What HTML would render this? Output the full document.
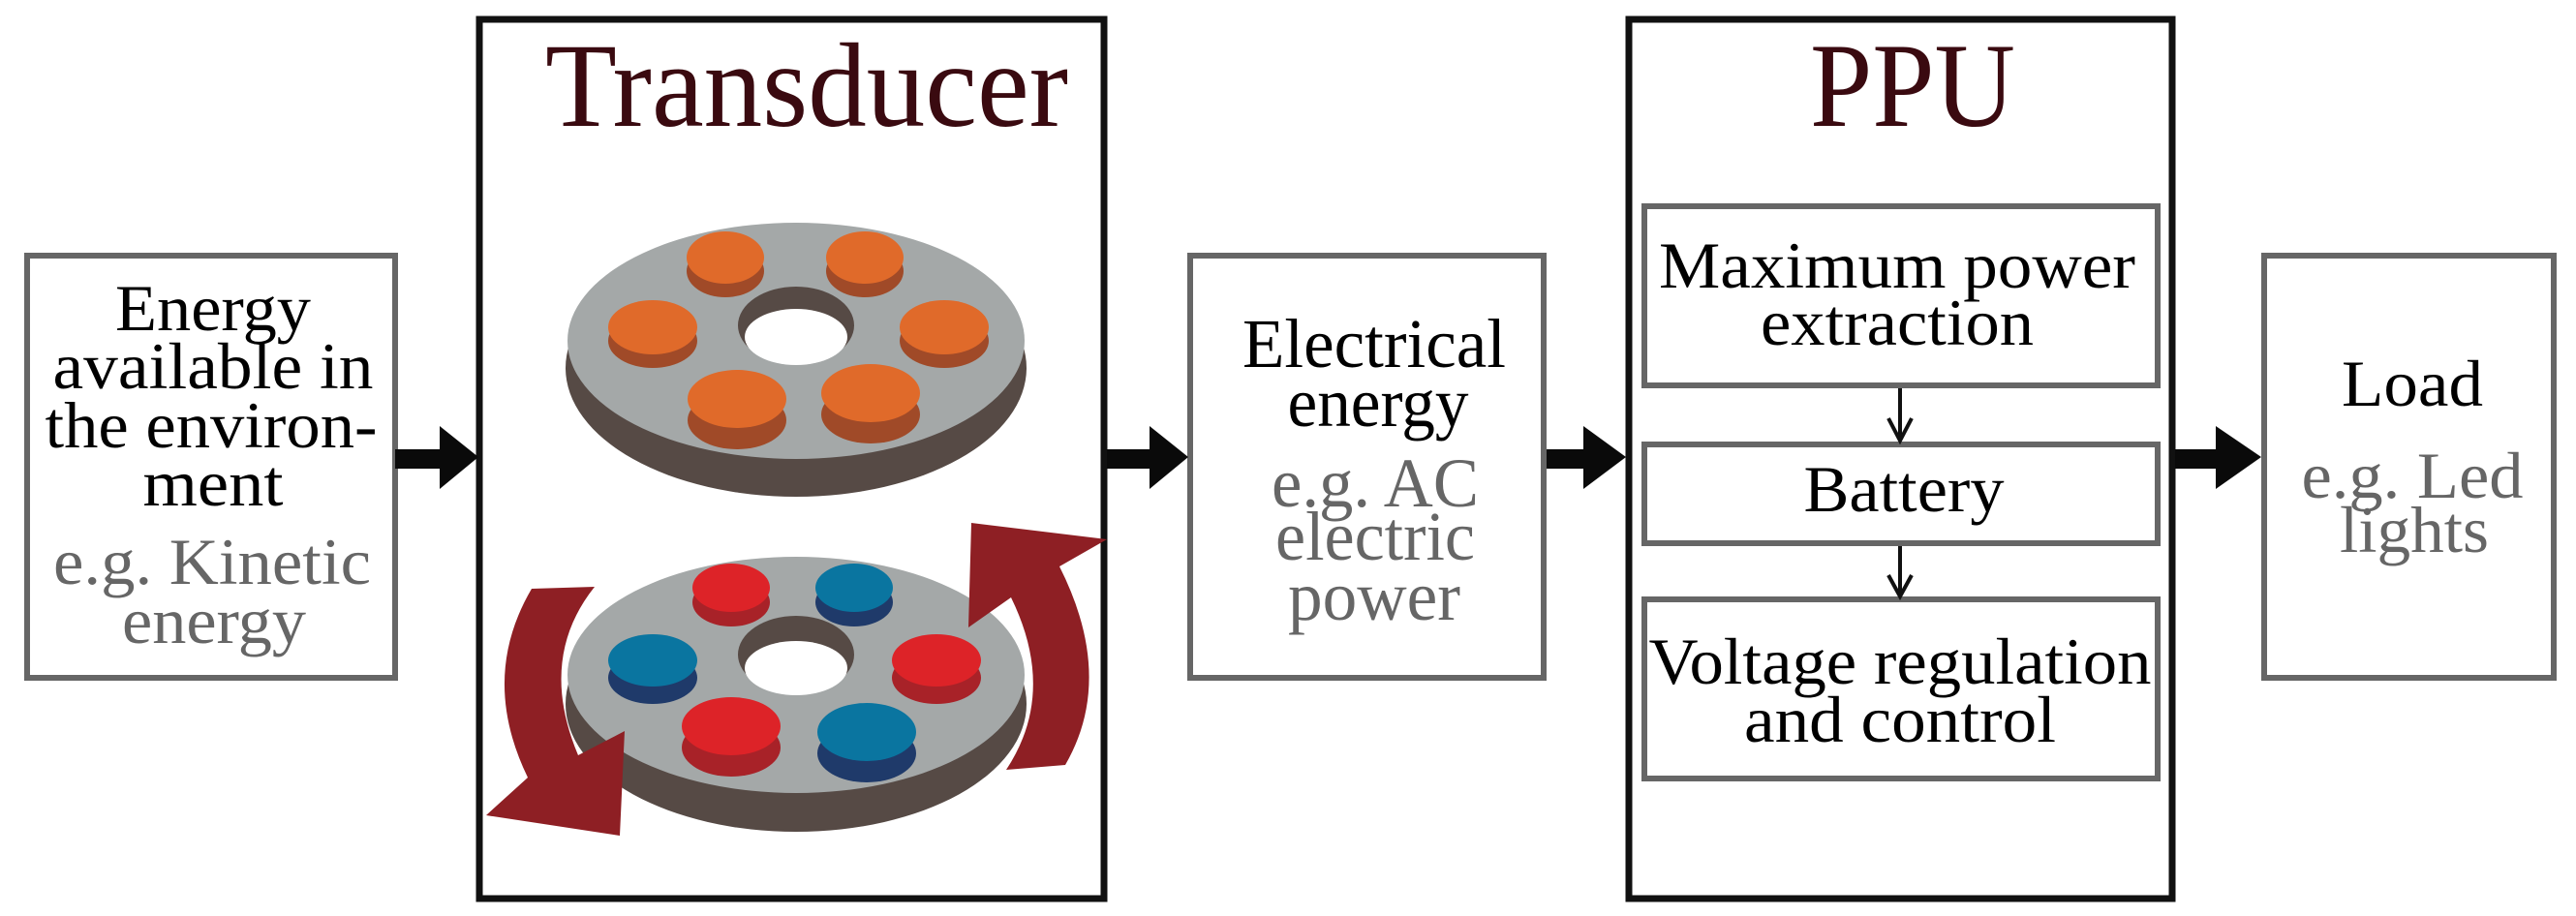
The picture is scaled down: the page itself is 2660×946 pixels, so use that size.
<!DOCTYPE html>
<html><head><meta charset="utf-8"><style>
html,body{margin:0;padding:0;background:#fff}
svg{display:block}
text{font-family:"Liberation Serif","Times New Roman",Times,"Nimbus Roman","DejaVu Serif",serif}
</style></head><body>
<svg width="2660" height="946" viewBox="0 0 2660 946" xmlns="http://www.w3.org/2000/svg">
<!-- boxes -->
<rect x="28" y="264" width="380" height="436" fill="#fff" stroke="#666" stroke-width="6"/>
<rect x="495" y="20" width="645" height="908" fill="#fff" stroke="#111" stroke-width="7"/>
<rect x="1229" y="264" width="365" height="436" fill="#fff" stroke="#666" stroke-width="6"/>
<rect x="1682" y="20" width="561" height="908" fill="#fff" stroke="#111" stroke-width="7"/>
<rect x="1698" y="213" width="530" height="185" fill="#fff" stroke="#666" stroke-width="6"/>
<rect x="1698" y="459" width="530" height="102" fill="#fff" stroke="#666" stroke-width="6"/>
<rect x="1698" y="619" width="530" height="185" fill="#fff" stroke="#666" stroke-width="6"/>
<rect x="2338" y="264" width="299" height="436" fill="#fff" stroke="#666" stroke-width="6"/>

<!-- thick arrows -->
<g fill="#0a0a0a">
<rect x="408" y="464" width="50" height="20"/><polygon points="454,440 494,472 454,505"/>
<rect x="1143" y="464" width="48" height="20"/><polygon points="1187,440 1227,472 1187,505"/>
<rect x="1597" y="464" width="42" height="20"/><polygon points="1635,440 1679,472 1635,505"/>
<rect x="2246" y="464" width="46" height="20"/><polygon points="2288,440 2335,472 2288,505"/>
</g>
<!-- small arrows -->
<g stroke="#111" stroke-width="4" fill="none">
<line x1="1962" y1="401" x2="1962" y2="455"/><polyline points="1950,432 1962,455 1974,432"/>
<line x1="1962" y1="564" x2="1962" y2="616"/><polyline points="1950,594 1962,616 1974,594"/>
</g>

<!-- titles -->
<text x="833" y="130" font-size="124" fill="#3a0a10" text-anchor="middle" textLength="540" lengthAdjust="spacingAndGlyphs">Transducer</text>
<text x="1975" y="130" font-size="124" fill="#3a0a10" text-anchor="middle" textLength="212" lengthAdjust="spacingAndGlyphs">PPU</text>

<!-- texts -->
<g font-size="68" text-anchor="middle" fill="#000">
<text x="220" y="341" textLength="202" lengthAdjust="spacingAndGlyphs">Energy</text>
<text x="220" y="401" textLength="331" lengthAdjust="spacingAndGlyphs">available in</text>
<text x="218" y="462" textLength="343" lengthAdjust="spacingAndGlyphs">the environ-</text>
<text x="220" y="522" textLength="145" lengthAdjust="spacingAndGlyphs">ment</text>
<text x="219" y="603" fill="#666" textLength="328" lengthAdjust="spacingAndGlyphs">e.g. Kinetic</text>
<text x="221" y="664" fill="#666" textLength="190" lengthAdjust="spacingAndGlyphs">energy</text>

<text x="1419" y="379" font-size="72" textLength="272" lengthAdjust="spacingAndGlyphs">Electrical</text>
<text x="1423" y="440" font-size="72" textLength="187" lengthAdjust="spacingAndGlyphs">energy</text>
<text x="1420" y="523" font-size="72" fill="#666" textLength="214" lengthAdjust="spacingAndGlyphs">e.g. AC</text>
<text x="1420" y="578" font-size="72" fill="#666" textLength="206" lengthAdjust="spacingAndGlyphs">electric</text>
<text x="1419" y="640" font-size="72" fill="#666" textLength="178" lengthAdjust="spacingAndGlyphs">power</text>

<text x="1959" y="297" textLength="492" lengthAdjust="spacingAndGlyphs">Maximum power</text>
<text x="1959" y="356" textLength="282" lengthAdjust="spacingAndGlyphs">extraction</text>
<text x="1966" y="528" textLength="207" lengthAdjust="spacingAndGlyphs">Battery</text>
<text x="1962" y="706" textLength="519" lengthAdjust="spacingAndGlyphs">Voltage regulation</text>
<text x="1962" y="766" textLength="322" lengthAdjust="spacingAndGlyphs">and control</text>

<text x="2491" y="419" textLength="146" lengthAdjust="spacingAndGlyphs">Load</text>
<text x="2491" y="514" fill="#666" textLength="229" lengthAdjust="spacingAndGlyphs">e.g. Led</text>
<text x="2493" y="570" fill="#666" textLength="154" lengthAdjust="spacingAndGlyphs">lights</text>
</g>

<!-- top disk -->
<ellipse cx="822" cy="380" rx="238" ry="133" fill="#564a45"/>
<ellipse cx="822" cy="352" rx="236" ry="122" fill="#a4a8a8"/>
<ellipse cx="822" cy="336" rx="60" ry="40" fill="#564a45"/>
<ellipse cx="822" cy="348" rx="53" ry="29" fill="#fff"/>
<g>
<ellipse cx="749" cy="280" rx="40" ry="27" fill="#a04a28"/><ellipse cx="749" cy="266" rx="40" ry="27" fill="#e06a2a"/>
<ellipse cx="893" cy="280" rx="40" ry="27" fill="#a04a28"/><ellipse cx="893" cy="266" rx="40" ry="27" fill="#e06a2a"/>
<ellipse cx="674" cy="352" rx="46" ry="28" fill="#a04a28"/><ellipse cx="674" cy="338" rx="46" ry="28" fill="#e06a2a"/>
<ellipse cx="975" cy="352" rx="46" ry="28" fill="#a04a28"/><ellipse cx="975" cy="338" rx="46" ry="28" fill="#e06a2a"/>
<ellipse cx="761" cy="434" rx="51" ry="30" fill="#a04a28"/><ellipse cx="761" cy="412" rx="51" ry="30" fill="#e06a2a"/>
<ellipse cx="899" cy="428" rx="51" ry="30" fill="#a04a28"/><ellipse cx="899" cy="406" rx="51" ry="30" fill="#e06a2a"/>
</g>

<!-- bottom disk -->
<ellipse cx="822" cy="727" rx="238" ry="132" fill="#564a45"/>
<ellipse cx="822" cy="697" rx="236" ry="122" fill="#a4a8a8"/>
<ellipse cx="822" cy="676" rx="60" ry="40" fill="#564a45"/>
<ellipse cx="822" cy="690" rx="53" ry="28" fill="#fff"/>
<g>
<ellipse cx="755" cy="622" rx="40" ry="25" fill="#a82228"/><ellipse cx="755" cy="607" rx="40" ry="25" fill="#dd2328"/>
<ellipse cx="882" cy="622" rx="40" ry="25" fill="#1f3a6a"/><ellipse cx="882" cy="607" rx="40" ry="25" fill="#0a75a0"/>
<ellipse cx="674" cy="700" rx="46" ry="27" fill="#1f3a6a"/><ellipse cx="674" cy="682" rx="46" ry="27" fill="#0a75a0"/>
<ellipse cx="967" cy="700" rx="46" ry="27" fill="#a82228"/><ellipse cx="967" cy="682" rx="46" ry="27" fill="#dd2328"/>
<ellipse cx="755" cy="772" rx="51" ry="30" fill="#a82228"/><ellipse cx="755" cy="750" rx="51" ry="30" fill="#dd2328"/>
<ellipse cx="895" cy="778" rx="51" ry="30" fill="#1f3a6a"/><ellipse cx="895" cy="756" rx="51" ry="30" fill="#0a75a0"/>
</g>

<!-- rotation arrows -->
<path fill="#8e1f24" d="M549,608 L614,606 Q555,680 597,780 L645,755 L640,863 L502,842 L545,803 Q495,700 549,608 Z"/>
<path fill="#8e1f24" d="M1039,795 Q1092,715 1044,617 L1000,648 L1003,540 L1143,557 L1094,585 Q1152,700 1100,790 Z"/>
</svg>
</body></html>
